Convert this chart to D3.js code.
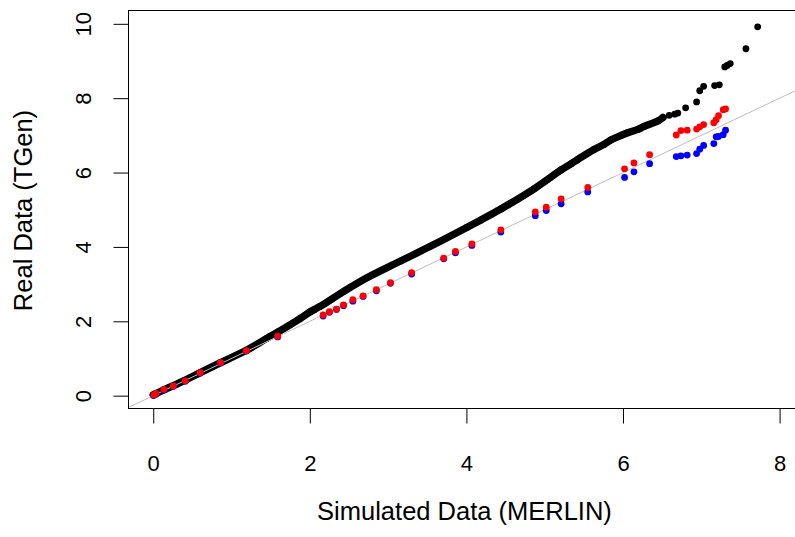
<!DOCTYPE html>
<html>
<head>
<meta charset="utf-8">
<script src="https://cdn.jsdelivr.net/npm/d3@7"></script>
<style>
  html, body { margin: 0; padding: 0; background: #fff; }
  svg { display: block; font-family: "Liberation Sans", Arial, sans-serif; }
</style>
</head>
<body>
<svg id="chart" width="795" height="537"></svg>
<script>
// ---- data ----
const xTicks = [0, 2, 4, 6, 8];
const yTicks = [0, 2, 4, 6, 8, 10];
const xLabel = "Simulated Data (MERLIN)";
const yLabel = "Real Data (TGen)";

// black series: dense part (overlapping points forming a band)
const blackBandX = [0.00, 0.14, 0.41, 0.60, 0.86, 1.19, 1.45, 1.60, 1.88, 2.00, 2.13, 2.43, 2.73, 3.16, 3.59, 4.01, 4.18, 4.44, 4.87, 5.21, 5.34, 5.42, 5.63, 5.76, 5.85, 6.06, 6.19, 6.27, 6.45, 6.51];
const blackBandY = [0.02, 0.16, 0.42, 0.62, 0.89, 1.22, 1.54, 1.72, 2.08, 2.25, 2.40, 2.80, 3.17, 3.62, 4.07, 4.53, 4.72, 5.02, 5.57, 6.07, 6.24, 6.35, 6.62, 6.76, 6.88, 7.07, 7.16, 7.24, 7.39, 7.48];
// black series: sparse tail points
const blackTailX = [6.59, 6.66, 6.70, 6.80, 6.94, 6.98, 7.03, 7.17, 7.23, 7.30, 7.33, 7.37, 7.57, 7.72];
const blackTailY = [7.54, 7.57, 7.60, 7.74, 7.90, 8.20, 8.32, 8.34, 8.36, 8.84, 8.88, 8.93, 9.33, 9.92];

// red and blue series share simulated quantiles
const simX  = [0.01, 0.035, 0.137, 0.256, 0.41, 0.60, 0.86, 1.19, 1.59, 2.17, 2.25, 2.34, 2.43, 2.55, 2.68, 2.85, 3.03, 3.30, 3.71, 3.86, 4.07, 4.44, 4.88, 5.02, 5.21, 5.55, 6.02, 6.14, 6.34, 6.68, 6.74, 6.82, 6.94, 6.98, 7.03, 7.16, 7.19, 7.22, 7.28, 7.31];
const redY  = [0.02, 0.06, 0.17, 0.26, 0.40, 0.62, 0.89, 1.21, 1.60, 2.17, 2.26, 2.33, 2.44, 2.58, 2.68, 2.85, 3.04, 3.31, 3.70, 3.88, 4.08, 4.46, 4.94, 5.07, 5.29, 5.60, 6.10, 6.26, 6.48, 7.01, 7.13, 7.14, 7.17, 7.23, 7.29, 7.34, 7.42, 7.53, 7.69, 7.71];
const blueY = [0.01, 0.04, 0.15, 0.25, 0.39, 0.61, 0.88, 1.20, 1.58, 2.14, 2.24, 2.32, 2.42, 2.54, 2.67, 2.82, 3.02, 3.27, 3.68, 3.84, 4.04, 4.40, 4.84, 4.98, 5.16, 5.48, 5.87, 6.02, 6.24, 6.43, 6.45, 6.47, 6.51, 6.63, 6.73, 6.78, 6.96, 6.97, 7.02, 7.14];

// ---- layout ----
const svg = d3.select("#chart");
const padL = 128.5, padR = 796.5, padT = 10.5, padB = 408.5;
const x = d3.scaleLinear().domain([-0.316, 8.216]).range([padL, padR]);
const y = d3.scaleLinear().domain([-0.345, 10.358]).range([padB, padT]);
const R = 3.4;
const tickFont = 22, labelFont = 25.5;

// clip
svg.append("clipPath").attr("id", "clip")
  .append("rect").attr("x", padL).attr("y", padT).attr("width", padR - padL).attr("height", padB - padT);
const plot = svg.append("g").attr("clip-path", "url(#clip)");

// black band
const band = blackBandX.map((v, i) => [v, blackBandY[i]]);
plot.append("path")
  .datum(band)
  .attr("d", d3.line().x(d => x(d[0])).y(d => y(d[1])).curve(d3.curveCatmullRom))
  .attr("fill", "none").attr("stroke", "#000").attr("stroke-width", 7.4)
  .attr("stroke-linecap", "round").attr("stroke-linejoin", "round");
plot.selectAll("circle.bb").data(band).join("circle").attr("class", "bb")
  .attr("cx", d => x(d[0])).attr("cy", d => y(d[1])).attr("r", R).attr("fill", "#000");
const tail = blackTailX.map((v, i) => [v, blackTailY[i]]);
plot.selectAll("circle.bt").data(tail).join("circle").attr("class", "bt")
  .attr("cx", d => x(d[0])).attr("cy", d => y(d[1])).attr("r", R).attr("fill", "#000");

// y = x reference line
const dom = x.domain();
plot.append("line")
  .attr("x1", x(dom[0])).attr("y1", y(dom[0]))
  .attr("x2", x(dom[1])).attr("y2", y(dom[1]))
  .attr("stroke", "#bebebe").attr("stroke-width", 1);

// blue then red
const blue = simX.map((v, i) => [v, blueY[i]]);
const red = simX.map((v, i) => [v, redY[i]]);
plot.selectAll("circle.bl").data(blue).join("circle").attr("class", "bl")
  .attr("cx", d => x(d[0])).attr("cy", d => y(d[1])).attr("r", R).attr("fill", "#0000ff");
plot.selectAll("circle.rd").data(red).join("circle").attr("class", "rd")
  .attr("cx", d => x(d[0])).attr("cy", d => y(d[1])).attr("r", R).attr("fill", "#ff0000");

// box
svg.append("rect").attr("x", padL).attr("y", padT).attr("width", padR - padL).attr("height", padB - padT)
  .attr("fill", "none").attr("stroke", "#000").attr("stroke-width", 1);

// x axis
const gx = svg.append("g").attr("transform", `translate(0,${padB})`)
  .call(d3.axisBottom(x).tickValues(xTicks).tickFormat(d3.format("d")).tickSize(15).tickSizeOuter(0));
gx.select(".domain").remove();
gx.selectAll(".tick line").attr("stroke", "#000");
gx.selectAll(".tick text").attr("y", 62.5).attr("dy", null)
  .attr("font-size", tickFont).attr("font-family", "Liberation Sans, Arial, sans-serif").attr("fill", "#000");

// y axis
const gy = svg.append("g").attr("transform", `translate(${padL},0)`)
  .call(d3.axisLeft(y).tickValues(yTicks).tickFormat(d3.format("d")).tickSize(15).tickSizeOuter(0));
gy.select(".domain").remove();
gy.selectAll(".tick line").attr("stroke", "#000");
gy.selectAll(".tick text")
  .attr("x", null).attr("dy", null).attr("y", null)
  .attr("text-anchor", "middle")
  .attr("transform", "translate(-38,0) rotate(-90)")
  .attr("font-size", tickFont).attr("font-family", "Liberation Sans, Arial, sans-serif").attr("fill", "#000");

// axis titles
svg.append("text").attr("x", (padL + padR) / 2 + 2).attr("y", 520)
  .attr("text-anchor", "middle").attr("font-size", labelFont).attr("fill", "#000").text(xLabel);
svg.append("text").attr("transform", `translate(32,${(padT + padB) / 2 + 1}) rotate(-90)`)
  .attr("text-anchor", "middle").attr("font-size", labelFont).attr("fill", "#000").text(yLabel);
</script>
</body>
</html>
